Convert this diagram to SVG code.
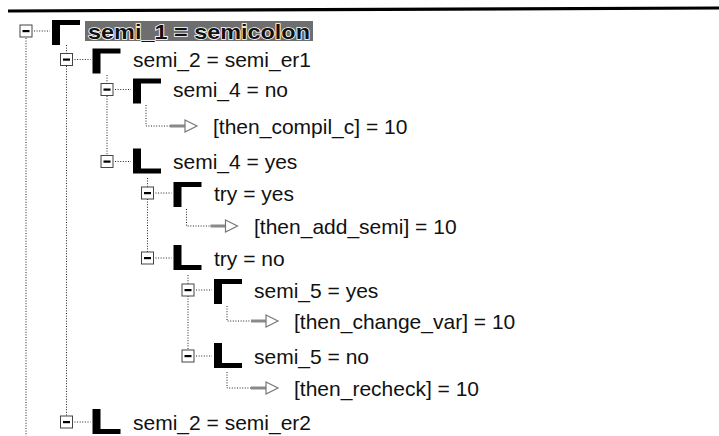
<svg xmlns="http://www.w3.org/2000/svg" width="719" height="436" viewBox="0 0 719 436">
  <style>
    .lbl { font-family: "Liberation Sans", Arial, sans-serif; font-size: 21px; fill: #111; }
    .sel { font-family: "Liberation Sans", Arial, sans-serif; font-size: 21px; font-weight: bold; fill: #111; stroke: #fff; stroke-width: 1.6px; paint-order: stroke; }
    .dot { stroke: #222; stroke-width: 1; stroke-dasharray: 1 1.6; fill: none; }
    .box { fill: #fff; stroke: #444; stroke-width: 1; }
    .minus { fill: #000; }
    .icon { fill: #000; }
    .shaft { fill: #8a8a8a; }
    .head { fill: #fff; stroke: #777; stroke-width: 1.2; }
  </style>
  <defs>
    <!-- expander box with minus sign, centred on its origin -->
    <g id="expander">
      <rect class="box" x="-6" y="-6" width="12" height="12"/>
      <rect class="minus" x="-3.5" y="-1" width="7" height="2.2"/>
    </g>
    <!-- opening bracket (top corner) -->
    <path id="open" class="icon" d="M0,0 H28 V5 H8 V25 H0 Z"/>
    <!-- closing bracket (bottom corner) -->
    <path id="close" class="icon" d="M0,0 H8 V20 H28 V25 H0 Z"/>
    <!-- hollow result arrow -->
    <g id="arrow">
      <rect class="shaft" x="0" y="-1.5" width="16" height="3"/>
      <polygon class="head" points="15,-6 27,0 15,6"/>
    </g>
  </defs>

  <!-- header rule -->
  <path d="M8,11 L719,8" stroke="#000" stroke-width="3.2"/>

  <g id="connectors">
    <!-- vertical tree guides -->
    <line class="dot" x1="26" y1="38" x2="26" y2="436"/>
    <line class="dot" x1="66.5" y1="45" x2="66.5" y2="53"/>
    <line class="dot" x1="66.5" y1="66" x2="66.5" y2="416"/>
    <line class="dot" x1="107" y1="75" x2="107" y2="83"/>
    <line class="dot" x1="107" y1="96" x2="107" y2="155"/>
    <line class="dot" x1="147.5" y1="178" x2="147.5" y2="187"/>
    <line class="dot" x1="147.5" y1="199" x2="147.5" y2="252"/>
    <line class="dot" x1="188" y1="275" x2="188" y2="284"/>
    <line class="dot" x1="188" y1="296" x2="188" y2="350"/>
    <!-- box to icon stubs -->
    <line class="dot" x1="34" y1="31" x2="50" y2="31"/>
    <line class="dot" x1="74.5" y1="59.5" x2="90.5" y2="59.5"/>
    <line class="dot" x1="115" y1="89.5" x2="131" y2="89.5"/>
    <line class="dot" x1="115" y1="161.5" x2="131" y2="161.5"/>
    <line class="dot" x1="155.5" y1="193" x2="171.5" y2="193"/>
    <line class="dot" x1="155.5" y1="258" x2="171.5" y2="258"/>
    <line class="dot" x1="196" y1="290" x2="212" y2="290"/>
    <line class="dot" x1="196" y1="356" x2="212" y2="356"/>
    <line class="dot" x1="74.5" y1="422" x2="90.5" y2="422"/>
    <!-- result elbows -->
    <path class="dot" d="M146,105 V126 H170"/>
    <path class="dot" d="M186.5,209 V226 H210.5"/>
    <path class="dot" d="M227,306 V321 H251"/>
    <path class="dot" d="M227,372 V388 H251"/>
    <use href="#arrow" x="170" y="126"/>
    <use href="#arrow" x="210.5" y="226"/>
    <use href="#arrow" x="251" y="321"/>
    <use href="#arrow" x="251" y="388"/>
  </g>

  <g id="semi_1">
    <use href="#expander" x="26" y="31"/>
    <use href="#open" x="52" y="20"/>
    <rect x="85" y="21" width="228" height="20" fill="#6e6e6e"/>
    <text class="sel" x="88" y="38.5" textLength="222" lengthAdjust="spacingAndGlyphs">semi_1 = semicolon</text>
  </g>
  <g id="semi_2_er1">
    <use href="#expander" x="66.5" y="59.5"/>
    <use href="#open" x="92.5" y="48.5"/>
    <text class="lbl" x="133" y="67">semi_2 = semi_er1</text>
  </g>
  <g id="semi_4_no">
    <use href="#expander" x="107" y="89.5"/>
    <use href="#open" x="133" y="78.5"/>
    <text class="lbl" x="173" y="97">semi_4 = no</text>
  </g>
  <g id="then_compil_c">
    <text class="lbl" x="213" y="133.5">[then_compil_c] = 10</text>
  </g>
  <g id="semi_4_yes">
    <use href="#expander" x="107" y="161.5"/>
    <use href="#close" x="133" y="148.5"/>
    <text class="lbl" x="173" y="169">semi_4 = yes</text>
  </g>
  <g id="try_yes">
    <use href="#expander" x="147.5" y="193"/>
    <use href="#open" x="173.5" y="182"/>
    <text class="lbl" x="214" y="200.5">try = yes</text>
  </g>
  <g id="then_add_semi">
    <text class="lbl" x="254" y="233.5">[then_add_semi] = 10</text>
  </g>
  <g id="try_no">
    <use href="#expander" x="147.5" y="258"/>
    <use href="#close" x="173.5" y="245"/>
    <text class="lbl" x="214" y="265.5">try = no</text>
  </g>
  <g id="semi_5_yes">
    <use href="#expander" x="188" y="290"/>
    <use href="#open" x="214" y="279"/>
    <text class="lbl" x="254" y="297.5">semi_5 = yes</text>
  </g>
  <g id="then_change_var">
    <text class="lbl" x="294" y="328.5">[then_change_var] = 10</text>
  </g>
  <g id="semi_5_no">
    <use href="#expander" x="188" y="356"/>
    <use href="#close" x="214" y="343"/>
    <text class="lbl" x="254" y="363.5">semi_5 = no</text>
  </g>
  <g id="then_recheck">
    <text class="lbl" x="294" y="395.5">[then_recheck] = 10</text>
  </g>
  <g id="semi_2_er2">
    <use href="#expander" x="66.5" y="422"/>
    <use href="#close" x="92.5" y="409"/>
    <text class="lbl" x="133" y="429.5">semi_2 = semi_er2</text>
  </g>
</svg>
